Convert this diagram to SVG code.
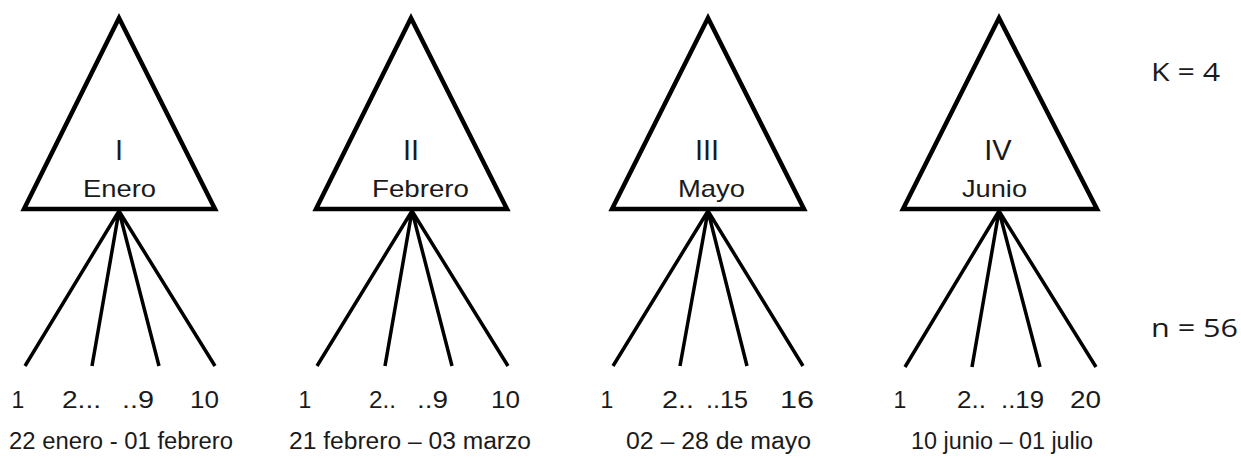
<svg xmlns="http://www.w3.org/2000/svg" width="1241" height="458" viewBox="0 0 1241 458">
<style>
.tri{fill:#fff;stroke:#000;stroke-width:4.5;stroke-linejoin:miter}
.ln{stroke:#000;stroke-width:3.5;stroke-linecap:butt;fill:none}
text{font-family:"Liberation Sans",Arial,sans-serif;fill:#1a1a1a}
.rom{font-size:29px;text-anchor:middle}
.mon{font-size:24px}
.num{font-size:23px}
.dt{font-size:23px}
.side{font-family:"Open Sans","Noto Sans",sans-serif;font-size:26px}
</style>
<rect width="1241" height="458" fill="#fff"/>
<g id="connectors">
<path class="ln" d="M119,211 L25,366 M119,211 L92,366 M119,211 L159,366 M119,211 L215,366"/>
<path class="ln" d="M412,211 L317,366 M412,211 L385,366 M412,211 L452,366 M412,211 L508,366"/>
<path class="ln" d="M708,211 L613,366 M708,211 L680,366 M708,211 L747,366 M708,211 L803,366"/>
<path class="ln" d="M999,211 L905,367 M999,211 L972,367 M999,211 L1040,367 M999,211 L1096,367"/>
</g>
<g id="node-I">
<polygon class="tri" points="119,18 24,209 215,209"/>
<text class="rom" x="119" y="160">I</text>
<text class="mon" x="83" y="197" textLength="73" lengthAdjust="spacingAndGlyphs">Enero</text>
</g>
<g id="node-II">
<polygon class="tri" points="411,18 316,209 507,209"/>
<text class="rom" x="411" y="160">II</text>
<text class="mon" x="372" y="197" textLength="97" lengthAdjust="spacingAndGlyphs">Febrero</text>
</g>
<g id="node-III">
<polygon class="tri" points="708,18 612,209 804,209"/>
<text class="rom" x="707" y="160">III</text>
<text class="mon" x="678" y="197" textLength="67" lengthAdjust="spacingAndGlyphs">Mayo</text>
</g>
<g id="node-IV">
<polygon class="tri" points="999,18 903,209 1097,209"/>
<text class="rom" x="998" y="160">IV</text>
<text class="mon" x="962" y="197" textLength="65" lengthAdjust="spacingAndGlyphs">Junio</text>
</g>
<g id="leaves-I">
<text class="num" x="18" y="408" text-anchor="middle">1</text>
<text class="num" x="62" y="408" textLength="39" lengthAdjust="spacingAndGlyphs">2...</text>
<text class="num" x="122" y="408" textLength="32" lengthAdjust="spacingAndGlyphs">..9</text>
<text class="num" x="190" y="408" textLength="29" lengthAdjust="spacingAndGlyphs">10</text>
<text class="dt" x="9" y="449" textLength="224" lengthAdjust="spacingAndGlyphs">22 enero - 01 febrero</text>
</g>
<g id="leaves-II">
<text class="num" x="305" y="408" text-anchor="middle">1</text>
<text class="num" x="369" y="408" textLength="27" lengthAdjust="spacingAndGlyphs">2..</text>
<text class="num" x="417" y="408" textLength="31" lengthAdjust="spacingAndGlyphs">..9</text>
<text class="num" x="491" y="408" textLength="29" lengthAdjust="spacingAndGlyphs">10</text>
<text class="dt" x="289" y="449" textLength="242" lengthAdjust="spacingAndGlyphs">21 febrero – 03 marzo</text>
</g>
<g id="leaves-III">
<text class="num" x="607" y="408" text-anchor="middle">1</text>
<text class="num" x="662" y="408" textLength="32" lengthAdjust="spacingAndGlyphs">2..</text>
<text class="num" x="706" y="408" textLength="42" lengthAdjust="spacingAndGlyphs">..15</text>
<text class="num" x="780" y="408" textLength="34" lengthAdjust="spacingAndGlyphs">16</text>
<text class="dt" x="626" y="449" textLength="185" lengthAdjust="spacingAndGlyphs">02 – 28 de mayo</text>
</g>
<g id="leaves-IV">
<text class="num" x="900" y="408" text-anchor="middle">1</text>
<text class="num" x="957" y="408" textLength="29" lengthAdjust="spacingAndGlyphs">2..</text>
<text class="num" x="1001" y="408" textLength="43" lengthAdjust="spacingAndGlyphs">..19</text>
<text class="num" x="1070" y="408" textLength="31" lengthAdjust="spacingAndGlyphs">20</text>
<text class="dt" x="911" y="449" textLength="182" lengthAdjust="spacingAndGlyphs">10 junio – 01 julio</text>
</g>
<g id="params">
<text class="side" x="1151" y="81" textLength="69" lengthAdjust="spacingAndGlyphs">K = 4</text>
<text class="side" x="1151" y="337" textLength="87" lengthAdjust="spacingAndGlyphs">n = 56</text>
</g>
</svg>
